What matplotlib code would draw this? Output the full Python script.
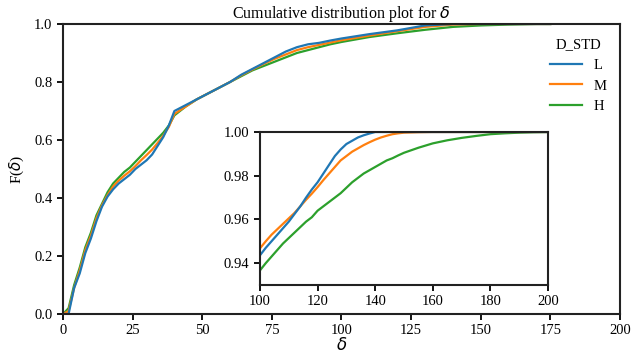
import matplotlib
matplotlib.use("Agg")
import matplotlib.pyplot as plt

# ECDF values
delta = [0, 2, 4, 6, 8, 10, 12, 14, 16, 18, 20, 22, 24, 26, 28, 30, 32, 34, 36, 38, 40,
         44, 48, 52, 56, 60, 64, 68, 72, 76, 80, 84, 88, 92, 96, 100,
         110, 120, 130, 140, 150, 160, 170, 175]
cdf_L = [0, 0, 0.09, 0.14, 0.21, 0.26, 0.32, 0.37, 0.405, 0.43, 0.45, 0.465, 0.48, 0.50, 0.515,
         0.53, 0.55, 0.58, 0.61, 0.65, 0.70,
         0.72, 0.74, 0.76, 0.78, 0.80, 0.825, 0.845, 0.865, 0.885, 0.905, 0.92, 0.93, 0.935,
         0.943, 0.95, 0.965, 0.978, 0.995, 1.0, 1.0, 1.0, 1.0, 1.0]
cdf_M = [0, 0.01, 0.09, 0.15, 0.22, 0.27, 0.33, 0.375, 0.41, 0.44, 0.46, 0.477, 0.492, 0.51,
         0.53, 0.548, 0.567, 0.59, 0.615, 0.645, 0.69,
         0.715, 0.74, 0.76, 0.78, 0.80, 0.823, 0.843, 0.862, 0.88, 0.895, 0.91, 0.92, 0.928,
         0.936, 0.944, 0.96, 0.975, 0.99, 0.998, 1.0, 1.0, 1.0, 1.0]
cdf_H = [0, 0.02, 0.10, 0.16, 0.23, 0.28, 0.34, 0.38, 0.42, 0.45, 0.47, 0.49, 0.505, 0.525,
         0.545, 0.565, 0.585, 0.605, 0.625, 0.65, 0.685,
         0.715, 0.74, 0.76, 0.78, 0.80, 0.82, 0.84, 0.855, 0.87, 0.885, 0.90, 0.91, 0.92,
         0.93, 0.938, 0.955, 0.968, 0.98, 0.99, 0.995, 0.998, 1.0, 1.0]

# zoomed tail (inset)
delta_zoom = [100, 102, 104, 106, 108, 110, 112, 114, 116, 118, 120, 122, 124, 126, 128,
              130, 132, 134, 136, 138, 140, 142, 144, 146, 148, 150,
              155, 160, 165, 170, 175, 180, 185, 190, 195, 200]
zoom_L = [0.9436, 0.947, 0.950, 0.953, 0.956, 0.959, 0.9625, 0.966, 0.970, 0.9737, 0.977,
          0.981, 0.985, 0.989, 0.992, 0.9945, 0.996, 0.9975, 0.9985, 0.9993, 1.0, 1.0, 1.0,
          1.0, 1.0, 1.0, 1.0, 1.0, 1.0, 1.0, 1.0, 1.0, 1.0, 1.0, 1.0, 1.0]
zoom_M = [0.9468, 0.950, 0.953, 0.9555, 0.958, 0.9605, 0.963, 0.966, 0.969, 0.9718, 0.9748,
          0.978, 0.981, 0.984, 0.987, 0.989, 0.991, 0.9925, 0.994, 0.9953, 0.9965, 0.9975,
          0.9983, 0.999, 0.9994, 0.9997, 0.9999, 1.0, 1.0, 1.0, 1.0, 1.0, 1.0, 1.0, 1.0, 1.0]
zoom_H = [0.9367, 0.940, 0.943, 0.946, 0.949, 0.9515, 0.954, 0.9565, 0.959, 0.961, 0.964,
          0.966, 0.968, 0.970, 0.972, 0.9745, 0.977, 0.979, 0.981, 0.9825, 0.984, 0.9855,
          0.987, 0.988, 0.9893, 0.9905, 0.9928, 0.9948, 0.9962, 0.9973, 0.9982, 0.999,
          0.9994, 0.9997, 0.9999, 1.0]

groups = ["L", "M", "H"]
colors = {"L": "#1f77b4", "M": "#ff7f0e", "H": "#2ca02c"}

plt.rcParams["font.family"] = ["Liberation Serif", "DejaVu Serif"]
plt.rcParams["font.size"] = 10.5
plt.rcParams["axes.linewidth"] = 1.5
plt.rcParams["xtick.major.width"] = 1.3
plt.rcParams["ytick.major.width"] = 1.3
plt.rcParams["xtick.major.size"] = 4
plt.rcParams["ytick.major.size"] = 4
plt.rcParams["axes.edgecolor"] = "#222222"

fig = plt.figure(figsize=(6.41, 3.56), dpi=100)
ax = fig.add_axes([0.0983, 0.118, 0.8689, 0.8146])

main = {"L": cdf_L, "M": cdf_M, "H": cdf_H}
zoom = {"L": zoom_L, "M": zoom_M, "H": zoom_H}

for g in ["H", "M", "L"]:
    ax.plot(delta, main[g], color=colors[g], lw=1.6, label=g)

ax.set_xlim(0, 200)
ax.set_ylim(0, 1.0)
ax.set_xticks(range(0, 201, 25))
ax.set_yticks([0, 0.2, 0.4, 0.6, 0.8, 1.0])
ax.set_xlabel(r"$\delta$", fontsize=12, labelpad=0)
ax.set_ylabel(r"F($\delta$)", fontsize=11, labelpad=6)
ax.set_title(r"Cumulative distribution plot for $\delta$", fontsize=11.5, pad=2)

handles, labels = ax.get_legend_handles_labels()
order = [labels.index(g) for g in groups]
ax.legend([handles[i] for i in order], groups, title="D_STD", frameon=False,
          loc="upper right", bbox_to_anchor=(1.0, 0.995), fontsize=10.5, title_fontsize=10.5,
          handlelength=2.2)

axin = fig.add_axes([0.4056, 0.1994, 0.4493, 0.4298])
for g in ["H", "M", "L"]:
    axin.plot(delta_zoom, zoom[g], color=colors[g], lw=1.6)
axin.set_xlim(100, 200)
axin.set_ylim(0.93, 1.0)
axin.set_xticks(range(100, 201, 20))
axin.set_yticks([0.94, 0.96, 0.98, 1.00])
axin.set_yticklabels(["0.94", "0.96", "0.98", "1.00"])

plt.savefig("out.png", dpi=100)
